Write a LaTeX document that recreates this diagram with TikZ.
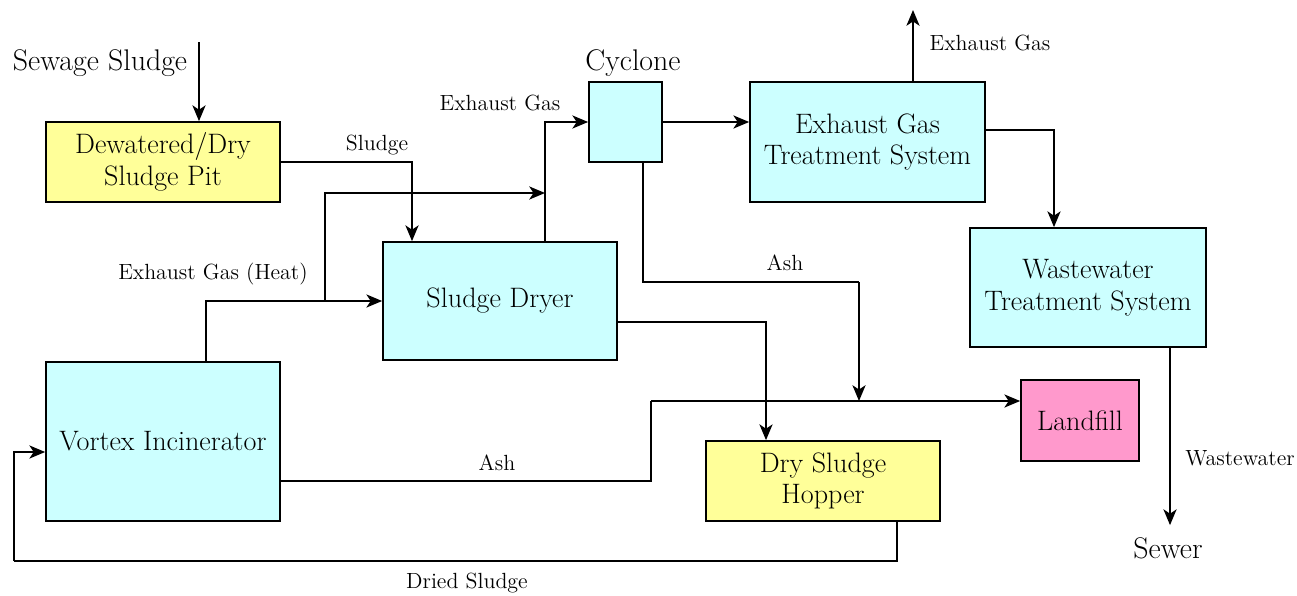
\documentclass[tikz,border=0pt]{standalone}
\usetikzlibrary{arrows.meta,calc}
\definecolor{cyanbox}{HTML}{CCFFFF}
\definecolor{yellowbox}{HTML}{FFFF99}
\definecolor{pinkbox}{HTML}{FF99CC}
\begin{document}
\begin{tikzpicture}[x=0.02cm,y=-0.02cm,
  unit/.style={draw,line width=1pt,align=center,inner sep=2pt,
    font=\fontsize{16}{18}\selectfont},
  flow/.style={line width=0.9pt,-{Stealth[length=9pt,width=7.5pt,inset=2.5pt]}},
  pipe/.style={line width=0.9pt},
  lbl/.style={font=\fontsize{12.5}{14}\selectfont},
  big/.style={font=\fontsize{17}{19}\selectfont}]
\useasboundingbox (0,0) rectangle (1297,595);
% process units
\node[unit,fill=yellowbox,minimum width=4.68cm,minimum height=1.6cm] (pit) at (163,162) {Dewatered/Dry\\Sludge Pit};
\node[unit,fill=cyanbox,minimum width=4.68cm,minimum height=2.36cm] (dryer) at (500,301) {Sludge Dryer};
\node[unit,fill=cyanbox,minimum width=1.46cm,minimum height=1.6cm] (cyc) at (625.5,122) {};
\node[unit,fill=cyanbox,minimum width=4.7cm,minimum height=2.4cm] (egts) at (867.5,142) {Exhaust Gas\\Treatment System};
\node[unit,fill=cyanbox,minimum width=4.72cm,minimum height=2.38cm] (wwts) at (1088,287.5) {Wastewater\\Treatment System};
\node[unit,fill=cyanbox,minimum width=4.68cm,minimum height=3.18cm] (inc) at (163,441.5) {Vortex Incinerator};
\node[unit,fill=pinkbox,minimum width=2.36cm,minimum height=1.62cm] (land) at (1080,420.5) {Landfill};
\node[unit,fill=yellowbox,minimum width=4.68cm,minimum height=1.6cm] (hop) at (823,481) {Dry Sludge\\Hopper};
% free ends and bends
\coordinate (ssin) at (199,42);
\coordinate (br) at (325,301);
\coordinate (j1) at (545,193);
\coordinate (gasout) at (913,10);
\coordinate (ashbend) at (859,282);
\coordinate (ashbend2) at (651,401);
\coordinate (dsbend) at (14,561);
\node[big] (sslab) at (100,63) {Sewage Sludge};
\node[big] (cyclab) at (633,63) {Cyclone};
\node[big] (sewer) at (1168,548) {Sewer};
% streams
\draw[flow] (ssin) -- (ssin |- pit.north);
\draw[flow] (pit.east) -| ($(dryer.north)+(-88,0)$);
\node[lbl] (sludgelab) at (377,145) {Sludge};
\draw[flow] ($(inc.north)+(43,0)$) |- (dryer.west);
\node[lbl] (heatlab) at (213,274) {Exhaust Gas (Heat)};
\draw[flow] (br) |- (j1);
\draw[flow] ($(dryer.north)+(45,0)$) |- (cyc.west);
\node[lbl] (gaslab1) at (500,103) {Exhaust Gas};
\draw[flow] (cyc.east) -- (cyc.east -| egts.west);
\draw[flow] (gasout |- egts.north) -- (gasout);
\node[lbl] (gaslab2) at (990,43) {Exhaust Gas};
\draw[flow] ($(egts.east)+(0,-12)$) -| ($(wwts.north)+(-34,0)$);
\draw[flow] ($(wwts.south)+(82,0)$) -- ($(sewer.north)+(2,-6)$);
\node[lbl] (wwlab) at (1240,458) {Wastewater};
\draw[pipe] ($(cyc.south)+(17.5,0)$) |- (ashbend);
\draw[flow] (ashbend) -- (ashbend |- ashbend2);
\node[lbl] (ashlab1) at (785,263) {Ash};
\draw[flow] ($(dryer.east)+(0,21)$) -| ($(hop.north)+(-57,0)$);
\draw[pipe] ($(inc.east)+(0,39.5)$) -| (ashbend2);
\draw[flow] (ashbend2) -- (ashbend2 -| land.west);
\node[lbl] (ashlab2) at (497,463) {Ash};
\draw[pipe] ($(hop.south)+(74,0)$) |- (dsbend);
\draw[flow] (dsbend) |- ($(inc.west)+(0,10.5)$);
\node[lbl] (dslab) at (467,583) {Dried Sludge};
\end{tikzpicture}
\end{document}
